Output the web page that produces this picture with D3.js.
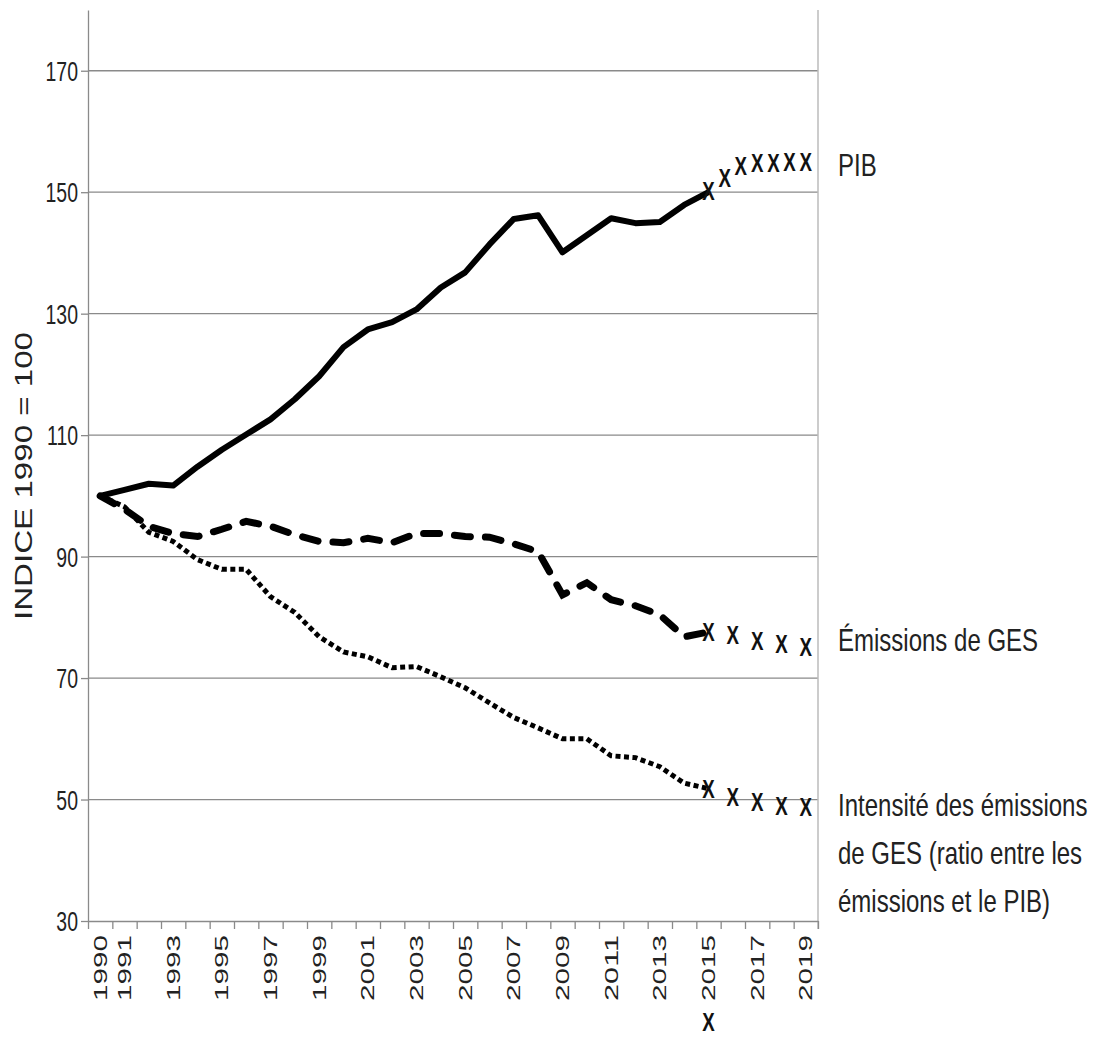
<!DOCTYPE html>
<html>
  <head>
    <meta charset="utf-8">
    <script src="https://cdn.jsdelivr.net/npm/d3@7"></script>
    <title>PIB et émissions de GES</title>
    <style>
      body {
        margin: 0px;
        background: #fff;
      }
      .narrow, .wide {
        font-family: "Liberation Sans", Arial, sans-serif;
        fill: #222;
      }
      .grid line {
        stroke: #8a8a8a;
        stroke-width: 1.3;
      }
      .axis .domain, .axis line {
        stroke: #8a8a8a;
        stroke-width: 1.3;
      }
      .line {
        fill: none;
        stroke: #000;
      }
      .marker {
        font-family: "Liberation Sans", Arial, sans-serif;
        font-weight: bold;
        fill: #111;
      }
    </style>
  </head>
  <body>
    <svg width="1095" height="1043"></svg>
    <script>
      // data (index, 1990 = 100)
      var years = [1990, 1991, 1992, 1993, 1994, 1995, 1996, 1997, 1998, 1999,
                   2000, 2001, 2002, 2003, 2004, 2005, 2006, 2007, 2008, 2009,
                   2010, 2011, 2012, 2013, 2014, 2015, 2016, 2017, 2018, 2019];
      var tickLabels = ['1990', '1991', '1993', '1995', '1997', '1999', '2001', '2003',
                        '2005', '2007', '2009', '2011', '2013', '2015', '2017', '2019'];
      var yTicks = [30, 50, 70, 90, 110, 130, 150, 170];

      var lineYears = [1990, 1991, 1992, 1993, 1994, 1995, 1996, 1997, 1998, 1999,
                       2000, 2001, 2002, 2003, 2004, 2005, 2006, 2007, 2008, 2009,
                       2010, 2011, 2012, 2013, 2014, 2015];
      var pib = [100, 101.0, 102.0, 101.7, 104.8, 107.6, 110.1, 112.6, 115.9, 119.7,
                 124.5, 127.4, 128.6, 130.7, 134.3, 136.8, 141.4, 145.6, 146.2, 140.1,
                 142.9, 145.7, 144.9, 145.1, 147.9, 150.0];
      var emissions = [100, 97.8, 95.0, 93.8, 93.3, 94.5, 95.8, 95.0, 93.6, 92.5,
                       92.3, 93.0, 92.3, 93.8, 93.8, 93.3, 93.2, 92.1, 90.8, 83.7,
                       85.7, 82.9, 81.9, 80.4, 76.8, 77.6];
      var intensite = [100, 98.2, 94.0, 92.5, 89.5, 87.9, 87.9, 83.4, 80.8, 76.8,
                       74.3, 73.5, 71.7, 71.9, 70.2, 68.4, 65.9, 63.5, 61.8, 60.0,
                       60.0, 57.2, 56.9, 55.4, 52.7, 51.8];

      // projections (x markers)
      var pibProjYears = [2015, 2015.67, 2016.33, 2017, 2017.67, 2018.33, 2019];
      var pibProj = [150.2, 152.4, 154.4, 154.8, 154.9, 155.0, 155.0];
      var projYears = [2015, 2016, 2017, 2018, 2019];
      var emissionsProj = [77.6, 77.1, 76.1, 75.7, 75.2];
      var intensiteProj = [51.8, 50.4, 49.6, 49.0, 48.8];

      var seriesLabels = [
        { lines: ['PIB'], y: 176 },
        { lines: ['Émissions de GES'], y: 651 },
        { lines: ['Intensité des émissions', 'de GES (ratio entre les', 'émissions et le PIB)'], y: 816 }
      ];

      var margin = { top: 10, left: 88, right: 277, bottom: 122 };
      var svg = d3.select('svg');
      var width = +svg.attr('width');
      var height = +svg.attr('height');
      var innerWidth = width - margin.left - margin.right;
      var innerHeight = height - margin.top - margin.bottom;

      // squeeze a text horizontally (no narrow font installed)
      function condense(sel, factor) {
        sel.each(function () {
          var w = this.getComputedTextLength();
          d3.select(this)
              .attr('textLength', w * factor)
              .attr('lengthAdjust', 'spacingAndGlyphs');
        });
      }

      var g = svg.append('g')
          .attr('transform', `translate(${margin.left},${margin.top})`);

      var xScale = d3.scaleLinear()
        .domain([years[0] - 0.5, years[years.length - 1] + 0.5])
        .range([0, innerWidth]);
      var yScale = d3.scaleLinear()
        .domain([30, 180])
        .range([innerHeight, 0]);

      // gridlines
      g.append('g')
          .attr('class', 'grid')
        .selectAll('line')
        .data(yTicks.slice(1))
        .enter().append('line')
          .attr('x1', 0)
          .attr('x2', innerWidth)
          .attr('y1', d => yScale(d))
          .attr('y2', d => yScale(d));

      // right frame line
      g.append('line')
          .attr('x1', innerWidth).attr('x2', innerWidth)
          .attr('y1', 0).attr('y2', innerHeight + 8)
          .attr('stroke', '#bbb')
          .attr('stroke-width', 1.5);

      // y axis
      var yAxisG = g.append('g')
          .attr('class', 'axis')
          .call(d3.axisLeft(yScale).tickValues(yTicks).tickSize(7).tickSizeOuter(0).tickFormat(d3.format('d')));
      yAxisG.selectAll('text')
          .attr('class', 'narrow')
          .attr('x', -10)
          .attr('dy', '0.36em')
          .style('font-size', '27px')
          .call(condense, 0.72);

      // x axis: ticks between the years
      var boundaries = years.map(d => d - 0.5).concat([years[years.length - 1] + 0.5]);
      var xAxisG = g.append('g')
          .attr('class', 'axis')
          .attr('transform', `translate(0,${innerHeight})`)
          .call(d3.axisBottom(xScale).tickValues(boundaries).tickSize(8).tickSizeOuter(0));
      xAxisG.selectAll('.tick text').remove();

      g.append('g')
        .selectAll('text')
        .data(tickLabels)
        .enter().append('text')
          .attr('class', 'wide')
          .attr('text-anchor', 'end')
          .attr('transform', d => `translate(${xScale(+d)},${innerHeight + 14}) rotate(-90)`)
          .attr('dy', '0.35em')
          .attr('textLength', 66)
          .attr('lengthAdjust', 'spacingAndGlyphs')
          .style('font-size', '19px')
          .text(d => d);

      // y title
      svg.append('text')
          .attr('class', 'wide')
          .attr('text-anchor', 'middle')
          .attr('transform', 'translate(24,476) rotate(-90)')
          .attr('dy', '0.35em')
          .attr('textLength', 288)
          .attr('lengthAdjust', 'spacingAndGlyphs')
          .style('font-size', '23px')
          .text('INDICE 1990 = 100');

      // lines
      var line = d3.line()
        .x(d => xScale(d[0]))
        .y(d => yScale(d[1]));

      function pairs(xs, ys) {
        return xs.map((x, i) => [x, ys[i]]);
      }

      g.append('path')
          .attr('class', 'line')
          .attr('stroke-width', 6)
          .attr('stroke-linejoin', 'round')
          .attr('d', line(pairs(lineYears, pib)));
      g.append('path')
          .attr('class', 'line')
          .attr('stroke-width', 7)
          .attr('stroke-linecap', 'round')
          .attr('stroke-dasharray', '16,15')
          .attr('d', line(pairs(lineYears, emissions)));
      g.append('path')
          .attr('class', 'line')
          .attr('stroke-width', 5)
          .attr('stroke-dasharray', '5,3.5')
          .attr('d', line(pairs(lineYears, intensite)));

      // projection markers (tall, narrow X)
      function markers(xs, ys) {
        g.append('g')
          .selectAll('text')
          .data(pairs(xs, ys))
          .enter().append('text')
            .attr('class', 'marker')
            .attr('text-anchor', 'middle')
            .attr('x', d => xScale(d[0]))
            .attr('y', d => yScale(d[1]))
            .attr('dy', '0.36em')
            .style('font-size', '26px')
            .text('X')
            .call(condense, 0.72);
      }
      markers(pibProjYears, pibProj);
      markers(projYears, emissionsProj);
      markers(projYears, intensiteProj);

      // x under 2015
      g.append('text')
          .attr('class', 'marker')
          .attr('text-anchor', 'middle')
          .attr('x', xScale(2015))
          .attr('y', innerHeight + 110)
          .style('font-size', '26px')
          .text('X')
          .call(condense, 0.72);

      // series labels on the right
      var labelG = svg.append('g');
      seriesLabels.forEach(s => {
        s.lines.forEach((t, i) => {
          labelG.append('text')
              .attr('class', 'narrow')
              .attr('x', 838)
              .attr('y', s.y + i * 48)
              .style('font-size', '32px')
              .text(t)
              .call(condense, 0.75);
        });
      });
    </script>
  </body>
</html>
